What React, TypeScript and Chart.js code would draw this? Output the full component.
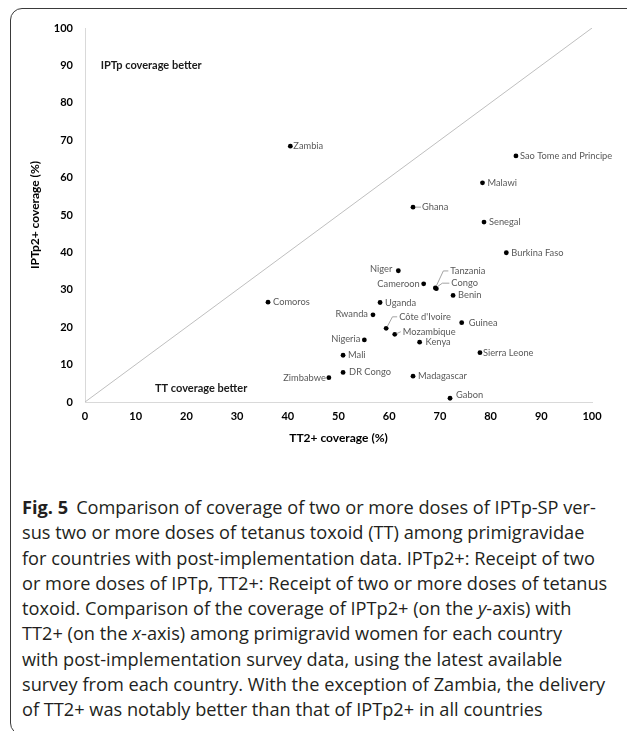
import React, { useEffect, useRef } from "react";
import { Chart, registerables } from "chart.js";

Chart.register(...registerables);

// ---------- DATA ----------
const countries = [
  "Zambia", "Sao Tome and Principe", "Malawi", "Ghana", "Senegal", "Burkina Faso",
  "Niger", "Cameroon", "Tanzania", "Congo", "Benin", "Comoros", "Uganda", "Rwanda",
  "Côte d'Ivoire", "Guinea", "Mozambique", "Nigeria", "Kenya", "Sierra Leone",
  "Mali", "DR Congo", "Zimbabwe", "Madagascar", "Gabon",
];
const tt2Coverage = [
  40.5, 85.0, 78.4, 64.7, 78.7, 83.1,
  61.8, 66.8, 69.1, 69.3, 72.6, 36.1, 58.2, 56.8,
  59.4, 74.3, 61.1, 55.1, 66.0, 77.9,
  50.9, 50.9, 48.1, 64.7, 72.0,
];
const iptp2Coverage = [
  68.4, 65.8, 58.6, 52.1, 48.1, 39.9,
  35.1, 31.6, 30.5, 30.3, 28.5, 26.7, 26.6, 23.3,
  19.7, 21.2, 18.1, 16.6, 16.0, 13.2,
  12.5, 7.9, 6.5, 6.9, 1.0,
];
const equalityLine = [0, 100];
const axisTicks = [0, 10, 20, 30, 40, 50, 60, 70, 80, 90, 100];
const xTitle = "TT2+ coverage (%)";
const yTitle = "IPTp2+ coverage (%)";
const noteTexts = ["IPTp coverage better", "TT coverage better"];
const noteX = [3.1, 13.8];
const noteY = [90, 3.5];

const captionBold = "Fig. 5";
const captionLines = [
  "Comparison of coverage of two or more doses of IPTp-SP ver-",
  "sus two or more doses of tetanus toxoid (TT) among primigravidae",
  "for countries with post-implementation data. IPTp2+: Receipt of two",
  "or more doses of IPTp, TT2+: Receipt of two or more doses of tetanus",
  "toxoid. Comparison of the coverage of IPTp2+ (on the |y|-axis) with",
  "TT2+ (on the |x|-axis) among primigravid women for each country",
  "with post-implementation survey data, using the latest available",
  "survey from each country. With the exception of Zambia, the delivery",
  "of TT2+ was notably better than that of IPTp2+ in all countries",
];

// ---------- LABEL PLACEMENT (style only) ----------
type LabelPlace = { dx?: number; dy?: number; align?: "left" | "right"; leader?: number[][] };
const labelPlace: Record<string, LabelPlace> = {
  Zambia: { dx: 3 },
  "Sao Tome and Principe": { dx: 4 },
  Niger: { dx: -6, dy: -2, align: "right" },
  Cameroon: { dx: -4, dy: 0, align: "right" },
  Rwanda: { dx: -5, dy: -1, align: "right" },
  Nigeria: { dx: -4, dy: -1, align: "right" },
  Zimbabwe: { dx: -3, dy: 0, align: "right" },
  Ghana: { dx: 9, dy: 0, leader: [[2, 0], [8, 0]] },
  Tanzania: { dx: 15, dy: -17, leader: [[1, -2], [8, -17], [13, -17]] },
  Congo: { dx: 15, dy: -5.5, leader: [[1, -2], [6, -5.5], [13, -5.5]] },
  "Côte d'Ivoire": { dx: 13, dy: -11.5, leader: [[1, -1.5], [6.3, -11.5], [11, -11.5]] },
  Mozambique: { dx: 8, dy: -2.6, leader: [[1.5, -0.5], [6, -2.6]] },
  Guinea: { dx: 7 },
  Kenya: { dx: 6 },
  Gabon: { dx: 6, dy: -3 },
  "Sierra Leone": { dx: 3 },
  Mali: { dx: 5 },
  "DR Congo": { dx: 6 },
  Madagascar: { dx: 5 },
};

const CHART_FONT = "Lato, 'Open Sans', sans-serif";

const labelPlugin = {
  id: "pointLabels",
  afterDatasetsDraw(chart: any) {
    const ctx = chart.ctx;
    const meta = chart.getDatasetMeta(1);
    ctx.save();
    ctx.font = `9.3px ${CHART_FONT}`;
    ctx.fillStyle = "#595959";
    ctx.textBaseline = "middle";
    meta.data.forEach((pt: any, i: number) => {
      const name = countries[i];
      const p = labelPlace[name] || {};
      const dx = p.dx ?? 5;
      const dy = p.dy ?? 0;
      if (p.leader) {
        ctx.beginPath();
        ctx.strokeStyle = "#8c8c8c";
        ctx.lineWidth = 0.8;
        p.leader.forEach((q, k) => {
          if (k === 0) ctx.moveTo(pt.x + q[0], pt.y + q[1]);
          else ctx.lineTo(pt.x + q[0], pt.y + q[1]);
        });
        ctx.stroke();
      }
      ctx.textAlign = p.align === "right" ? "right" : "left";
      ctx.fillText(name, pt.x + dx, pt.y + dy);
    });
    // region notes
    const xs = chart.scales.x;
    const ys = chart.scales.y;
    ctx.font = `bold 11px ${CHART_FONT}`;
    ctx.fillStyle = "#1a1a1a";
    ctx.textAlign = "left";
    noteTexts.forEach((t, i) => {
      ctx.fillText(t, xs.getPixelForValue(noteX[i]), ys.getPixelForValue(noteY[i]));
    });
    ctx.restore();
  },
};

export default function App() {
  const canvasRef = useRef<HTMLCanvasElement | null>(null);

  useEffect(() => {
    const canvas = canvasRef.current;
    if (!canvas) return;
    const tickFont = { family: CHART_FONT, size: 11, weight: "bold" as const };
    const titleFont = { family: CHART_FONT, size: 12, weight: "bold" as const };
    const chart = new Chart(canvas, {
      type: "scatter",
      data: {
        datasets: [
          {
            type: "line",
            data: equalityLine.map((v) => ({ x: v, y: v })),
            borderColor: "#bfbfbf",
            borderWidth: 1,
            pointRadius: 0,
            order: 2,
          } as any,
          {
            data: tt2Coverage.map((x, i) => ({ x, y: iptp2Coverage[i] })),
            backgroundColor: "#000000",
            borderColor: "#000000",
            pointRadius: 2.4,
            pointBorderWidth: 0,
            order: 1,
          },
        ],
      },
      options: {
        animation: false,
        responsive: false,
        devicePixelRatio: 1,
        layout: { padding: { left: 0, top: 28, right: 35, bottom: 0 } },
        plugins: { legend: { display: false }, tooltip: { enabled: false } },
        scales: {
          x: {
            type: "linear",
            min: 0,
            max: 100,
            afterBuildTicks: (s: any) => {
              s.ticks = axisTicks.map((v) => ({ value: v }));
            },
            afterFit: (s: any) => {
              s.height = 58;
            },
            ticks: { padding: 8, color: "#000", font: tickFont },
            grid: { display: false, drawTicks: false },
            border: { display: true, color: "#d9d9d9", width: 1 },
            title: {
              display: true,
              text: xTitle,
              color: "#000",
              font: titleFont,
              padding: { top: 0, bottom: 15 },
            },
          },
          y: {
            type: "linear",
            min: 0,
            max: 100,
            afterBuildTicks: (s: any) => {
              s.ticks = axisTicks.map((v) => ({ value: v }));
            },
            afterFit: (s: any) => {
              s.width = 85;
            },
            ticks: { padding: 12, color: "#000", font: tickFont },
            grid: { display: false, drawTicks: false },
            border: { display: true, color: "#d9d9d9", width: 1 },
            title: {
              display: true,
              text: yTitle,
              color: "#000",
              font: titleFont,
              padding: { top: 28, bottom: 0 },
            },
          },
        },
      },
      plugins: [labelPlugin],
    });
    return () => chart.destroy();
  }, []);

  const renderLine = (line: string) =>
    line.split("|").map((part, k) =>
      k % 2 === 1 ? <i key={k}>{part}</i> : <span key={k}>{part}</span>
    );

  return (
    <div
      style={{
        position: "fixed",
        left: 0,
        top: 0,
        width: 627,
        height: 731,
        overflow: "hidden",
        background: "#fff",
      }}
    >
      <div
        style={{
          position: "absolute",
          left: 10,
          top: 8,
          width: 660,
          height: 727,
          border: "1.5px solid #3a3a3a",
          borderRadius: 12,
          boxSizing: "border-box",
        }}
      />
      <canvas
        ref={canvasRef}
        width={627}
        height={460}
        style={{ position: "absolute", left: 0, top: 0, width: 627, height: 460 }}
      />
      <div
        style={{
          position: "absolute",
          left: 22,
          top: 495,
          fontFamily: "'Open Sans', sans-serif",
          fontSize: 18.2,
          lineHeight: "25.3px",
          color: "#231f20",
          whiteSpace: "nowrap",
        }}
      >
        {captionLines.map((line, i) => (
          <div key={i}>
            {i === 0 && <b style={{ marginRight: 8 }}>{captionBold}</b>}
            {renderLine(line)}
          </div>
        ))}
      </div>
    </div>
  );
}
